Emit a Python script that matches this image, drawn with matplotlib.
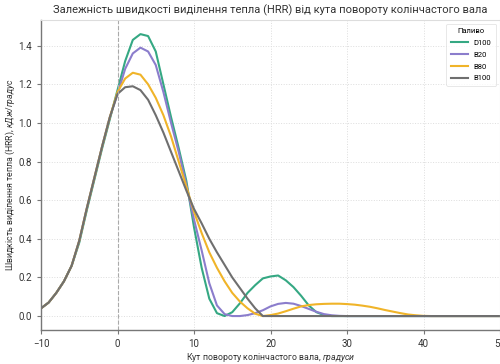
import numpy as np
import matplotlib
matplotlib.use('Agg')
import matplotlib.pyplot as plt

plt.rcParams['font.family'] = ['Roboto', 'DejaVu Sans']
plt.rcParams['mathtext.fontset'] = 'custom'
plt.rcParams['mathtext.it'] = 'Roboto:italic'
plt.rcParams['mathtext.rm'] = 'Roboto'

# Crank angle, degrees (step 1)
angle = list(range(-10, 51))

rise = [0.04, 0.07, 0.12, 0.18, 0.26, 0.39, 0.56, 0.72, 0.88, 1.03]

d100 = rise[:5] + [0.38, 0.55, 0.71, 0.87, 1.02] + [
    1.17, 1.32, 1.43, 1.46, 1.45, 1.37, 1.20, 1.03, 0.87, 0.70,
    0.46, 0.25, 0.09, 0.015, 0.0, 0.02, 0.066, 0.12, 0.16, 0.195,
    0.205, 0.21, 0.185, 0.15, 0.105, 0.055, 0.02, 0.005, 0.0, 0.0,
] + [0.0] * 21
b20 = rise + [
    1.15, 1.28, 1.36, 1.39, 1.37, 1.30, 1.16, 1.00, 0.85, 0.68,
    0.50, 0.34, 0.17, 0.055, 0.01, 0.0, 0.0, 0.005, 0.015, 0.03,
    0.05, 0.063, 0.068, 0.064, 0.052, 0.037, 0.022, 0.01, 0.004, 0.001,
] + [0.0] * 21
b80 = rise + [
    1.16, 1.23, 1.26, 1.25, 1.20, 1.13, 1.04, 0.93, 0.80, 0.67,
    0.54, 0.43, 0.33, 0.25, 0.18, 0.12, 0.075, 0.04, 0.012, 0.0,
    0.005, 0.013, 0.025, 0.038, 0.05, 0.057, 0.061, 0.063, 0.064, 0.064,
    0.062, 0.059, 0.054, 0.048, 0.04, 0.031, 0.023, 0.015, 0.008, 0.004,
    0.001,
] + [0.0] * 10
b100 = rise + [
    1.15, 1.185, 1.19, 1.17, 1.12, 1.04, 0.95, 0.85, 0.75, 0.65,
    0.555, 0.48, 0.40, 0.33, 0.265, 0.20, 0.145, 0.09, 0.04, 0.0,
] + [0.0] * 31

series = {'D100': d100, 'B20': b20, 'B80': b80, 'B100': b100}
colors = {'D100': '#35a883', 'B20': '#8b7dcc', 'B80': '#f0b429', 'B100': '#6f6f6f'}

fig = plt.figure(figsize=(5, 3.64), dpi=100)
ax = fig.add_axes([0.082, 0.093, 0.918, 0.852])

for name, vals in series.items():
    ax.plot(angle, vals, color=colors[name], lw=1.5, label=name)

ax.axvline(0, color='#aaaaaa', ls='--', lw=0.8)
ax.set_xlim(-10, 50)
ax.set_xticks([-10, 0, 10, 20, 30, 40, 50])
ax.set_yticks([0.0, 0.2, 0.4, 0.6, 0.8, 1.0, 1.2, 1.4])
ax.yaxis.set_major_formatter(matplotlib.ticker.FormatStrFormatter('%.1f'))
ax.grid(True, ls=':', color='#dddddd', lw=0.7)
ax.tick_params(labelsize=7, length=3, width=0.8, color='#777777', labelcolor='#333333')

for s in ['left', 'bottom']:
    ax.spines[s].set_color('#777777')
    ax.spines[s].set_linewidth(1.0)
for s in ['top', 'right']:
    ax.spines[s].set_color('#dddddd')
    ax.spines[s].set_linewidth(0.8)

ax.set_title('Залежність швидкості виділення тепла (HRR) від кута повороту колінчастого вала',
             fontsize=8, color='#333333', pad=5)
ax.set_xlabel('Кут повороту колінчастого вала, $\\it{градуси}$', fontsize=6.3, color='#333333', labelpad=1)
ax.set_ylabel('Швидкість виділення тепла (HRR), $\\it{кДж/градус}$', fontsize=6.3, color='#333333', labelpad=1)

leg = ax.legend(title='Паливо', loc='upper right', fontsize=5.5, title_fontsize=5.5,
                frameon=True, handlelength=2.2, borderpad=0.6, labelspacing=0.7)
leg.get_frame().set_edgecolor('#dddddd')
leg.get_frame().set_linewidth(0.6)

fig.savefig('out.png', dpi=100)
